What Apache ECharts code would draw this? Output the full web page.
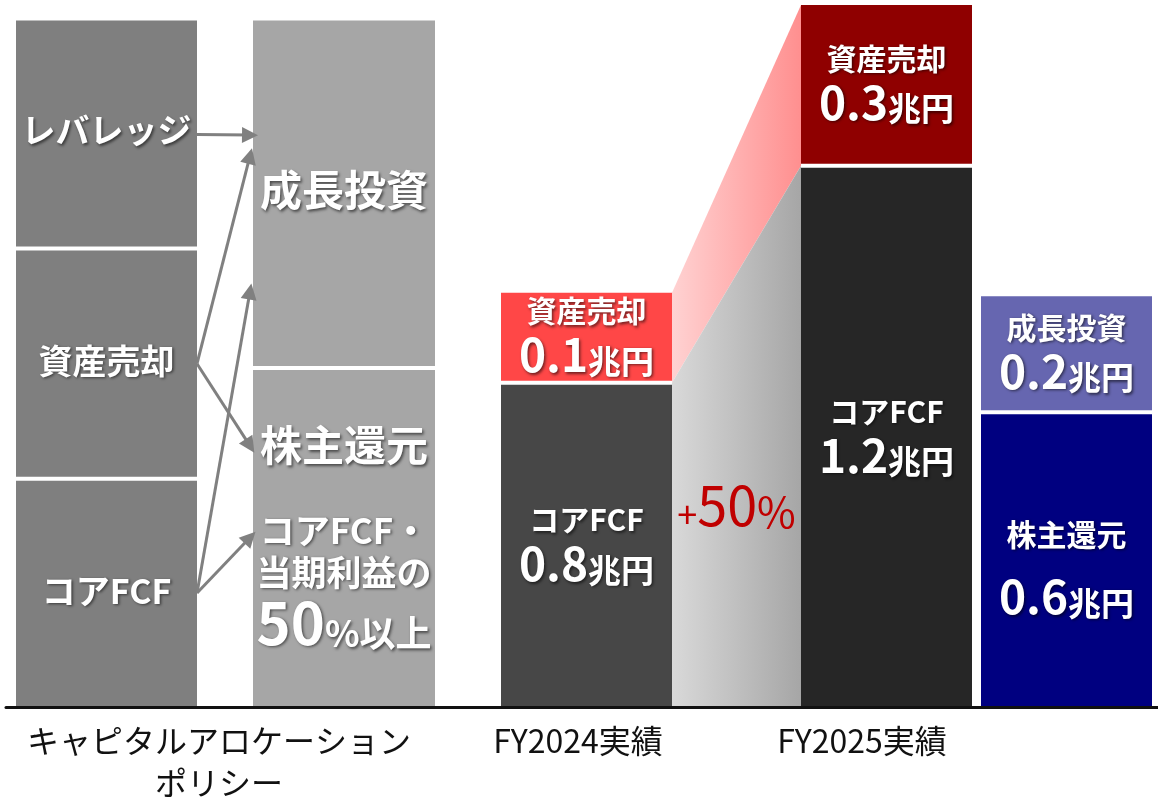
<!DOCTYPE html>
<html lang="ja">
<head>
<meta charset="utf-8">
<title>キャピタルアロケーション</title>
<script src="https://cdn.jsdelivr.net/npm/echarts@6/dist/echarts.min.js"></script>
<style>
  html, body { margin: 0; padding: 0; background: #fff; }
  #chart { width: 1158px; height: 804px; }
</style>
</head>
<body>
<div id="chart"></div>
<script>
  const FONT = '"Noto Sans CJK JP", "Noto Sans", sans-serif';

  // columns left -> right, segments bottom -> top
  const columnNames = ['ポリシー原資', 'ポリシー使途', 'FY2024実績', 'FY2025実績', 'FY2025使途'];
  const segmentNames = [
    ['コアFCF', '資産売却', 'レバレッジ'],
    ['株主還元', '成長投資'],
    ['コアFCF', '資産売却'],
    ['コアFCF', '資産売却'],
    ['株主還元', '成長投資'],
  ];
  // 兆円 (policy columns have no amount)
  const segmentAmounts = [
    [null, null, null],
    [null, null],
    [0.8, 0.1],
    [1.2, 0.3],
    [0.6, 0.2],
  ];
  // heights as drawn on the slide (not to scale), % of plot height
  const segmentHeights = [
    [32.5, 32.8, 32.5],
    [48.3, 49.5],
    [46.2, 12.8],
    [77.1, 22.9],
    [42.0, 16.5],
  ];
  const returnPolicy = ['コアFCF・', '当期利益の', '50', '%以上'];
  const growthPct = 50;
  const xLabels = ['キャピタルアロケーション\nポリシー', 'FY2024実績', 'FY2025実績'];

  // ---- layout / style ----
  const COL_X = [[16, 197], [253, 435], [501, 672], [801, 972], [981, 1152]];
  const X_LABEL_AT = [219, 578, 862];
  const SEG_COLORS = [
    ['#7f7f7f', '#7f7f7f', '#7f7f7f'],
    ['#a6a6a6', '#a6a6a6'],
    ['#474747', '#ff4747'],
    ['#262626', '#8f0000'],
    ['#000080', '#6666b0'],
  ];
  // policy arrows: [source segment, target segment, position on target 0..1]
  const ARROW_LINKS = [[2, 1, 0.67], [1, 1, 0.61], [1, 0, 0.77], [0, 1, 0.22], [0, 0, 0.5]];
  const GAP = 4;
  const SHADOW = {
    textShadowColor: 'rgba(0,0,0,0.55)',
    textShadowBlur: 3,
    textShadowOffsetX: 1.5,
    textShadowOffsetY: 1.5,
  };
  function rs(size, lh, extra) {
    return Object.assign({ fontFamily: FONT, fontWeight: 'bold', fontSize: size, lineHeight: lh, fill: '#fff' }, SHADOW, extra || {});
  }
  const RICH = {
    src: rs(34, 40),
    h: rs(42, 52),
    gap: rs(10, 38),
    m: rs(35, 42),
    b: rs(58, 58, { verticalAlign: 'bottom' }),
    p: rs(36, 36, { verticalAlign: 'bottom' }),
    t: rs(30, 42),
    tw: rs(30, 78),
    n: rs(46, 46, { verticalAlign: 'bottom' }),
    u: rs(33, 33, { verticalAlign: 'bottom' }),
  };
  const RED_RICH = {
    pl: { fontFamily: FONT, fontSize: 36, lineHeight: 36, fill: '#c00000', verticalAlign: 'bottom' },
    n: { fontFamily: FONT, fontSize: 54, lineHeight: 54, fill: '#c00000', verticalAlign: 'bottom' },
    pc: { fontFamily: FONT, fontSize: 42, lineHeight: 42, fill: '#c00000', verticalAlign: 'bottom' },
  };

  function baseOf(c, s) {
    let b = 0;
    for (let i = 0; i < s; i++) b += segmentHeights[c][i];
    return b;
  }

  const segData = [];
  segmentHeights.forEach((hs, c) => {
    hs.forEach((h, s) => {
      const b = baseOf(c, s);
      segData.push([COL_X[c][0], COL_X[c][1], b, b + h, c, s]);
    });
  });

  function segLabel(c, s) {
    const name = segmentNames[c][s];
    const amt = segmentAmounts[c][s];
    if (c === 1 && s === 0) {
      return '{h|' + name + '}\n{gap| }\n{m|' + returnPolicy[0] + '}\n{m|' + returnPolicy[1] +
        '}\n{b|' + returnPolicy[2] + '}{p|' + returnPolicy[3] + '}';
    }
    if (amt == null) return '{' + (c === 0 ? 'src' : 'h') + '|' + name + '}';
    const t = (c === 4 && s === 0) ? 'tw' : 't';
    return '{' + t + '|' + name + '}\n{n|' + amt.toFixed(1) + '}{u|兆円}';
  }

  function renderSegment(params, api) {
    const x0 = api.value(0), x1 = api.value(1), y0 = api.value(2), y1 = api.value(3);
    const c = api.value(4), s = api.value(5);
    const isTop = s === segmentHeights[c].length - 1;
    const p0 = api.coord([x0, y0]);
    const p1 = api.coord([x1, y1]);
    const bottom = p0[1] - (y0 > 0 ? GAP / 2 : 0);
    const top = p1[1] + (isTop ? 0 : GAP / 2);
    return {
      type: 'group',
      children: [
        {
          type: 'rect',
          shape: { x: p0[0], y: top, width: p1[0] - p0[0], height: bottom - top },
          style: { fill: SEG_COLORS[c][s] },
        },
        {
          type: 'text',
          style: Object.assign({
            x: (p0[0] + p1[0]) / 2,
            y: (top + bottom) / 2 - 3,
            text: segLabel(c, s),
            rich: RICH,
            align: 'center',
            verticalAlign: 'middle',
            fill: '#fff',
            fontFamily: FONT,
          }, SHADOW),
        },
      ],
    };
  }

  // FY2024 -> FY2025 bridge
  function renderBridge(params, api) {
    const a = api.value(0), b = api.value(1);
    const xa = COL_X[a][1], xb = COL_X[b][0];
    const coreA = segmentHeights[a][0], coreB = segmentHeights[b][0];
    const totA = baseOf(a, 2), totB = baseOf(b, 2);
    const pt = (x, y) => api.coord([x, y]);
    const grayTopA = pt(xa, coreA), grayTopB = pt(xb, coreB);
    const bot = pt(xa, 0)[1];
    const midX = (grayTopA[0] + grayTopB[0]) / 2;
    const midY = ((grayTopA[1] + grayTopB[1]) / 2 + bot) / 2;
    return {
      type: 'group',
      children: [
        {
          type: 'polygon',
          shape: { points: [pt(xa, totA), pt(xb, totB), grayTopB, grayTopA] },
          style: {
            fill: new echarts.graphic.LinearGradient(0, 0, 1, 0, [
              { offset: 0, color: '#ffd2d2' },
              { offset: 1, color: '#ff8f8f' },
            ]),
          },
        },
        {
          type: 'polygon',
          shape: { points: [grayTopA, grayTopB, pt(xb, 0), pt(xa, 0)] },
          style: {
            fill: new echarts.graphic.LinearGradient(0, 0, 1, 0, [
              { offset: 0, color: '#d9d9d9' },
              { offset: 1, color: '#a6a6a6' },
            ]),
          },
        },
        {
          type: 'text',
          style: {
            x: midX,
            y: midY + 15,
            text: '{pl|+}{n|' + growthPct + '}{pc|%}',
            rich: RED_RICH,
            align: 'center',
            verticalAlign: 'middle',
            fontFamily: FONT,
          },
        },
      ],
    };
  }

  const arrowData = ARROW_LINKS.map(([fs, ts, f]) => {
    const srcY = baseOf(0, fs) + segmentHeights[0][fs] / 2;
    const dstY = baseOf(1, ts) + segmentHeights[1][ts] * f;
    return { coords: [[COL_X[0][1], srcY], [COL_X[1][0] - 3, dstY]] };
  });

  const chart = echarts.init(document.getElementById('chart'));
  chart.setOption({
    animation: false,
    grid: { left: 6, right: 0, top: 5, bottom: 95 },
    xAxis: {
      type: 'value',
      min: 6,
      max: 1158,
      z: 10,
      splitLine: { show: false },
      axisTick: { show: false },
      axisLine: { show: true, lineStyle: { color: '#111', width: 3 } },
      axisLabel: {
        customValues: X_LABEL_AT,
        formatter: (v) => xLabels[X_LABEL_AT.indexOf(v)] || '',
        color: '#111',
        fontFamily: FONT,
        fontSize: 32,
        lineHeight: 42,
        margin: 13,
      },
    },
    yAxis: { type: 'value', min: 0, max: 100, show: false },
    series: [
      {
        type: 'custom',
        name: 'bridge',
        silent: true,
        renderItem: renderBridge,
        data: [[2, 3]],
        encode: { x: -1, y: -1 },
      },
      {
        type: 'custom',
        name: columnNames.join('/'),
        silent: true,
        renderItem: renderSegment,
        dimensions: ['x0', 'x1', 'y0', 'y1', 'col', 'seg'],
        encode: { x: [0, 1], y: [2, 3] },
        data: segData,
      },
      {
        type: 'lines',
        coordinateSystem: 'cartesian2d',
        silent: true,
        symbol: ['none', 'triangle'],
        symbolSize: [13, 16],
        lineStyle: { color: '#808080', width: 3, opacity: 1 },
        data: arrowData,
        z: 5,
      },
    ],
  });
</script>
</body>
</html>
